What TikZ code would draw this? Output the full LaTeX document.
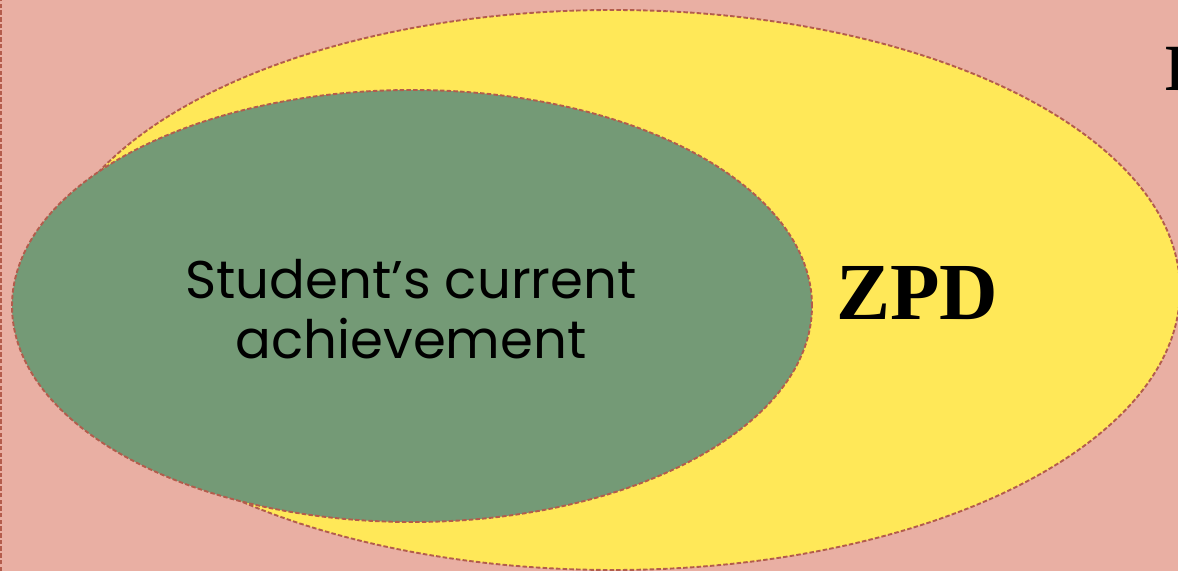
\documentclass[tikz,border=0pt]{standalone}
\usepackage{fontspec}
\usepackage{tikz}
\usetikzlibrary{shapes.geometric}
\newfontfamily\achievefont{Poppins}
\newfontfamily\zpdfont{Liberation Serif}
\definecolor{zonepink}{HTML}{E9AFA3}
\definecolor{zoneyellow}{HTML}{FFE858}
\definecolor{zonegreen}{HTML}{749A76}
\definecolor{zoneline}{HTML}{B35C4C}

\begin{document}
\begin{tikzpicture}[
      x=1pt, y=1pt,
      zone/.style={ellipse, draw=zoneline, line width=1.9pt,
        dash pattern=on 4.5pt off 2.2pt, inner sep=0pt},
      achieve/.style={align=center, font=\achievefont\fontsize{53}{60}\selectfont},
      zpdlabel/.style={font=\zpdfont\bfseries\fontsize{81}{84}\selectfont},
    ]
    \useasboundingbox (0,0) rectangle (1178,571);
    \fill[zonepink] (0,0) rectangle (1178,571);
    \draw[zoneline, line width=1.9pt, dash pattern=on 4.5pt off 2.2pt] (1,0) -- (1,571);

    % zone of proximal development, then what the student can do alone
    \node[zone, fill=zoneyellow, minimum width=1134pt, minimum height=560pt] (zpd) at (613,281) {};
    \node[zone, fill=zonegreen, minimum width=800pt, minimum height=432pt] (current) at (412,265) {};

    \node[achieve] (currenttext) at (411,262) {Student’s current\\achievement};
    \node[zpdlabel] (zpdtext) at (917,278) {ZPD};
    \node[zpdlabel, font=\zpdfont\bfseries\fontsize{66}{70}\selectfont,
      anchor=base west, inner sep=0pt] (beyondtext) at (1165,480) {B};
  \end{tikzpicture}
\end{document}
